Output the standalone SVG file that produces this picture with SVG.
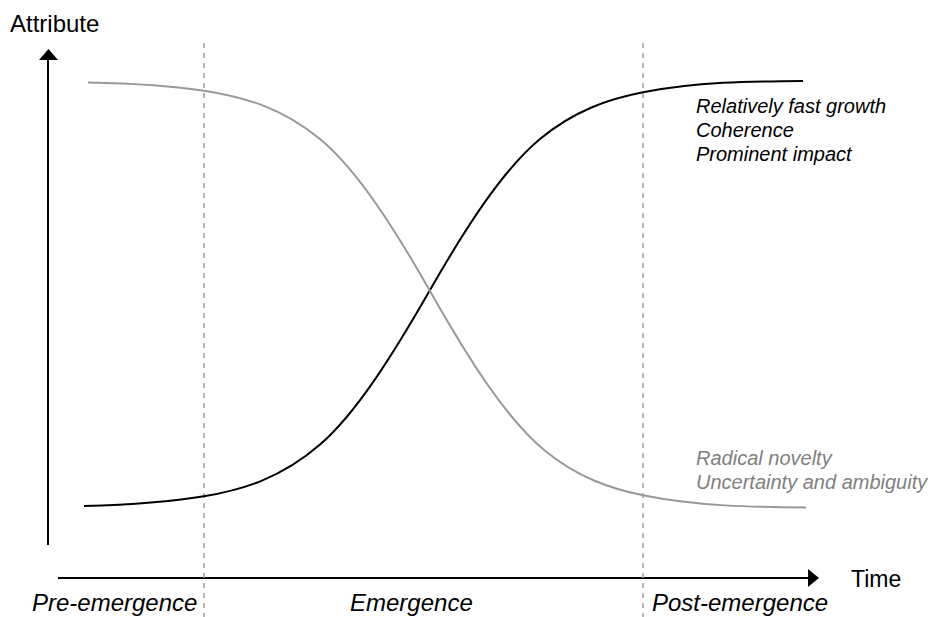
<svg xmlns="http://www.w3.org/2000/svg" width="939" height="617" viewBox="0 0 939 617">
<style>
  text { font-family: "Liberation Sans", Arial, sans-serif; }
  .lbl { font-size: 23px; fill: #000; }
  .phase { font-size: 24px; font-style: italic; fill: #000; }
  .note { font-size: 20px; font-style: italic; fill: #000; }
  .note-gray { font-size: 20px; font-style: italic; fill: #808080; }
  .axis { stroke: #000; stroke-width: 2; fill: none; }
  .divider { stroke: #a0a0a0; stroke-width: 1.5; stroke-dasharray: 5 5; fill: none; }
  .curve-black { stroke: #000; stroke-width: 2; fill: none; }
  .curve-gray { stroke: #999; stroke-width: 2; fill: none; }
</style>
<rect width="939" height="617" fill="#fff"/>

<g id="connectors">
  <line class="axis" x1="48" y1="545" x2="48" y2="58"/>
  <path d="M39,60 L48.5,49 L58,60 Z" fill="#000"/>
  <line class="axis" x1="58" y1="578" x2="810" y2="578"/>
  <path d="M808,569 L819,578 L808,587 Z" fill="#000"/>
  <line class="divider" x1="204" y1="43" x2="204" y2="617"/>
  <line class="divider" x1="643" y1="43" x2="643" y2="617"/>
  <path id="curve-growth" class="curve-black" d="M84,506 C124,505 164,503.1 204,496.3 C242.7,489.7 281.3,478.3 320,444.6 C356.7,412.7 393.3,354 430,290 C466.7,226 503.3,169.5 540,139 C574.3,110.5 608.7,99 643,92.3 C696.3,81.9 749.7,81.3 803,80.9"/>
  <path id="curve-novelty" class="curve-gray" d="M88,82.4 C126.7,83.2 165.3,84.6 204,90.7 C242.7,96.7 281.3,107.1 320,139.1 C357.3,170 394.7,228.7 432,294.5 C469.7,360.9 507.3,419.9 545,450.7 C577.7,477.4 610.3,488.6 643,495.3 C697.3,506.4 751.7,507 806,507.5"/>
</g>

<g id="axis-labels">
  <text class="lbl" x="10" y="32" style="font-size:24px">Attribute</text>
  <text class="lbl" x="851" y="587">Time</text>
</g>

<g id="phase-pre"><text class="phase" x="32" y="611">Pre-emergence</text></g>
<g id="phase-emergence"><text class="phase" x="350" y="611">Emergence</text></g>
<g id="phase-post"><text class="phase" x="652" y="611">Post-emergence</text></g>

<g id="notes-growth">
  <text class="note" x="696" y="113">Relatively fast growth</text>
  <text class="note" x="696" y="137">Coherence</text>
  <text class="note" x="696" y="161">Prominent impact</text>
</g>

<g id="notes-novelty">
  <text class="note-gray" x="696" y="465">Radical novelty</text>
  <text class="note-gray" x="696" y="489">Uncertainty and ambiguity</text>
</g>
</svg>
